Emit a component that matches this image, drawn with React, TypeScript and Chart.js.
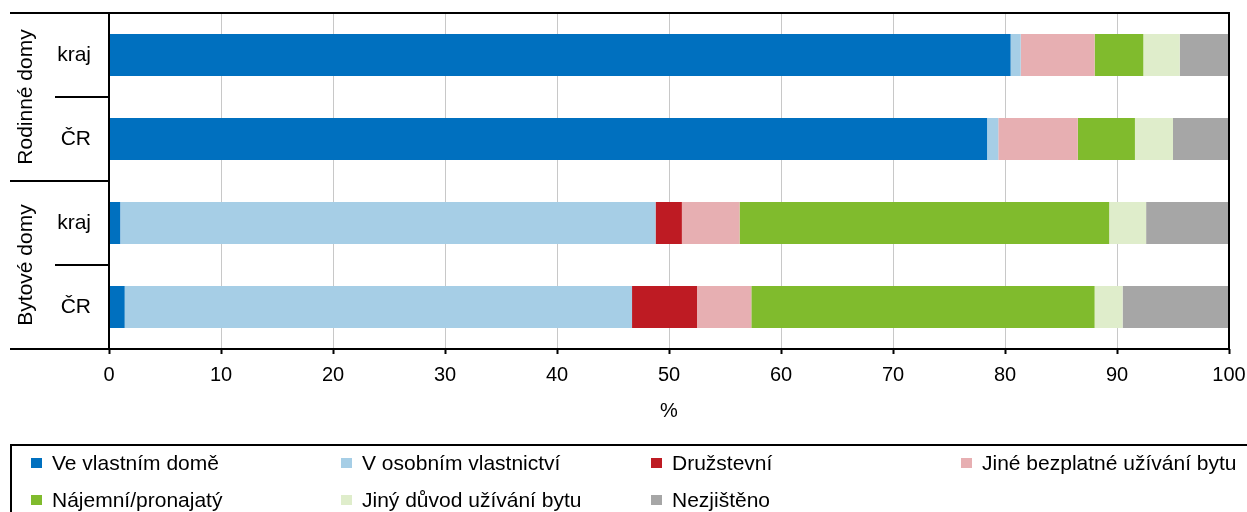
import React, { useEffect, useRef } from "react";
import { Chart, registerables } from "chart.js";

Chart.register(...registerables);

const groups = ["Rodinné domy", "Bytové domy"];
const categories = ["kraj", "ČR", "kraj", "ČR"];

const seriesNames = [
  "Ve vlastním domě",
  "V osobním vlastnictví",
  "Družstevní",
  "Jiné bezplatné užívání bytu",
  "Nájemní/pronajatý",
  "Jiný důvod užívání bytu",
  "Nezjištěno",
];
const seriesColors = ["#0070BF", "#A6CEE6", "#BE1B23", "#E7AFB2", "#80BB2D", "#DFEDCB", "#A6A6A6"];

const vlastniDum = [80.5, 78.4, 1.0, 1.4];
const osobniVlastnictvi = [0.9, 1.0, 47.8, 45.3];
const druzstevni = [0, 0, 2.35, 5.8];
const jineBezplatne = [6.6, 7.1, 5.15, 4.85];
const najemni = [4.35, 5.1, 33.0, 30.65];
const jinyDuvod = [3.25, 3.4, 3.3, 2.5];
const nezjisteno = [4.4, 5.0, 7.4, 9.5];

const seriesValues = [vlastniDum, osobniVlastnictvi, druzstevni, jineBezplatne, najemni, jinyDuvod, nezjisteno];

const xMin = 0;
const xMax = 100;
const xStep = 10;
const xTitle = "%";

const FONT = '"Liberation Sans", Arial, Helvetica, sans-serif';

const framePlugin = {
  id: "framePlugin",
  afterDraw(chart: any) {
    const { ctx, chartArea } = chart;
    const { left, right, top, bottom } = chartArea;
    const yScale = chart.scales.y;
    ctx.save();
    ctx.strokeStyle = "#000";
    ctx.lineWidth = 2;
    ctx.beginPath();
    ctx.rect(left, top, right - left, bottom - top);
    ctx.stroke();

    const outerX = 10;
    const innerX = 55;
    const sep = (i: number) => (yScale.getPixelForValue(i) + yScale.getPixelForValue(i + 1)) / 2;
    ctx.beginPath();
    ctx.moveTo(outerX, top);
    ctx.lineTo(left, top);
    ctx.moveTo(outerX, bottom);
    ctx.lineTo(left, bottom);
    ctx.moveTo(outerX, sep(1));
    ctx.lineTo(left, sep(1));
    ctx.moveTo(innerX, sep(0));
    ctx.lineTo(left, sep(0));
    ctx.moveTo(innerX, sep(2));
    ctx.lineTo(left, sep(2));
    ctx.stroke();

    // category labels
    ctx.fillStyle = "#000";
    ctx.font = `21px ${FONT}`;
    ctx.textAlign = "right";
    ctx.textBaseline = "middle";
    categories.forEach((c, i) => {
      ctx.fillText(c, 91, yScale.getPixelForValue(i));
    });

    // group labels
    groups.forEach((g, gi) => {
      const yc = (yScale.getPixelForValue(gi * 2) + yScale.getPixelForValue(gi * 2 + 1)) / 2;
      ctx.save();
      ctx.translate(26, yc);
      ctx.rotate(-Math.PI / 2);
      ctx.textAlign = "center";
      ctx.textBaseline = "middle";
      ctx.fillText(g, 0, 0);
      ctx.restore();
    });

    // legend
    const lTop = 445;
    const lLeft = 11;
    ctx.beginPath();
    ctx.moveTo(lLeft, chart.height + 2);
    ctx.lineTo(lLeft, lTop);
    ctx.lineTo(chart.width + 2, lTop);
    ctx.stroke();
    ctx.font = `21px ${FONT}`;
    ctx.textAlign = "left";
    ctx.textBaseline = "middle";
    seriesNames.forEach((name, i) => {
      const col = i % 4;
      const row = Math.floor(i / 4);
      const sx = 31 + col * 310;
      const cy = 463 + row * 37;
      ctx.fillStyle = seriesColors[i];
      ctx.fillRect(sx, cy - 5, 11, 10);
      ctx.fillStyle = "#000";
      ctx.fillText(name, sx + 21, cy + 1);
    });
    ctx.restore();
  },
};

export default function App() {
  const ref = useRef<HTMLCanvasElement>(null);
  useEffect(() => {
    if (!ref.current) return;
    const chart = new Chart(ref.current, {
      type: "bar",
      data: {
        labels: categories,
        datasets: seriesNames.map((name, i) => ({
          label: name,
          data: seriesValues[i],
          backgroundColor: seriesColors[i],
          borderWidth: 0,
          barPercentage: 0.5,
          categoryPercentage: 1,
        })),
      },
      options: {
        indexAxis: "y",
        responsive: false,
        animation: false,
        layout: { padding: { left: 109, right: 18, top: 13, bottom: 0 } },
        plugins: {
          legend: { display: false },
          tooltip: { enabled: false },
        },
        scales: {
          y: {
            stacked: true,
            display: false,
          },
          x: {
            stacked: true,
            min: xMin,
            max: xMax,
            ticks: {
              stepSize: xStep,
              color: "#000",
              padding: 9,
              font: { family: FONT, size: 20 },
            },
            grid: {
              color: "#C8C8C8",
              lineWidth: 1,
              tickColor: "#000",
              tickLength: 5,
              tickWidth: 2,
            },
            border: { display: false },
            title: {
              display: true,
              text: xTitle,
              color: "#000",
              font: { family: FONT, size: 20 },
              padding: { top: 0, bottom: 89 },
            },
            afterFit: (scale: any) => {
              scale.height = 163;
              scale.paddingLeft = 0;
              scale.paddingRight = 0;
            },
          },
        },
      } as any,
      plugins: [framePlugin],
    });
    return () => chart.destroy();
  }, []);
  return (
    <div style={{ position: "absolute", left: 0, top: 0, width: 1247, height: 512, background: "#fff" }}>
      <canvas ref={ref} width={1247} height={512} style={{ display: "block" }} />
    </div>
  );
}
